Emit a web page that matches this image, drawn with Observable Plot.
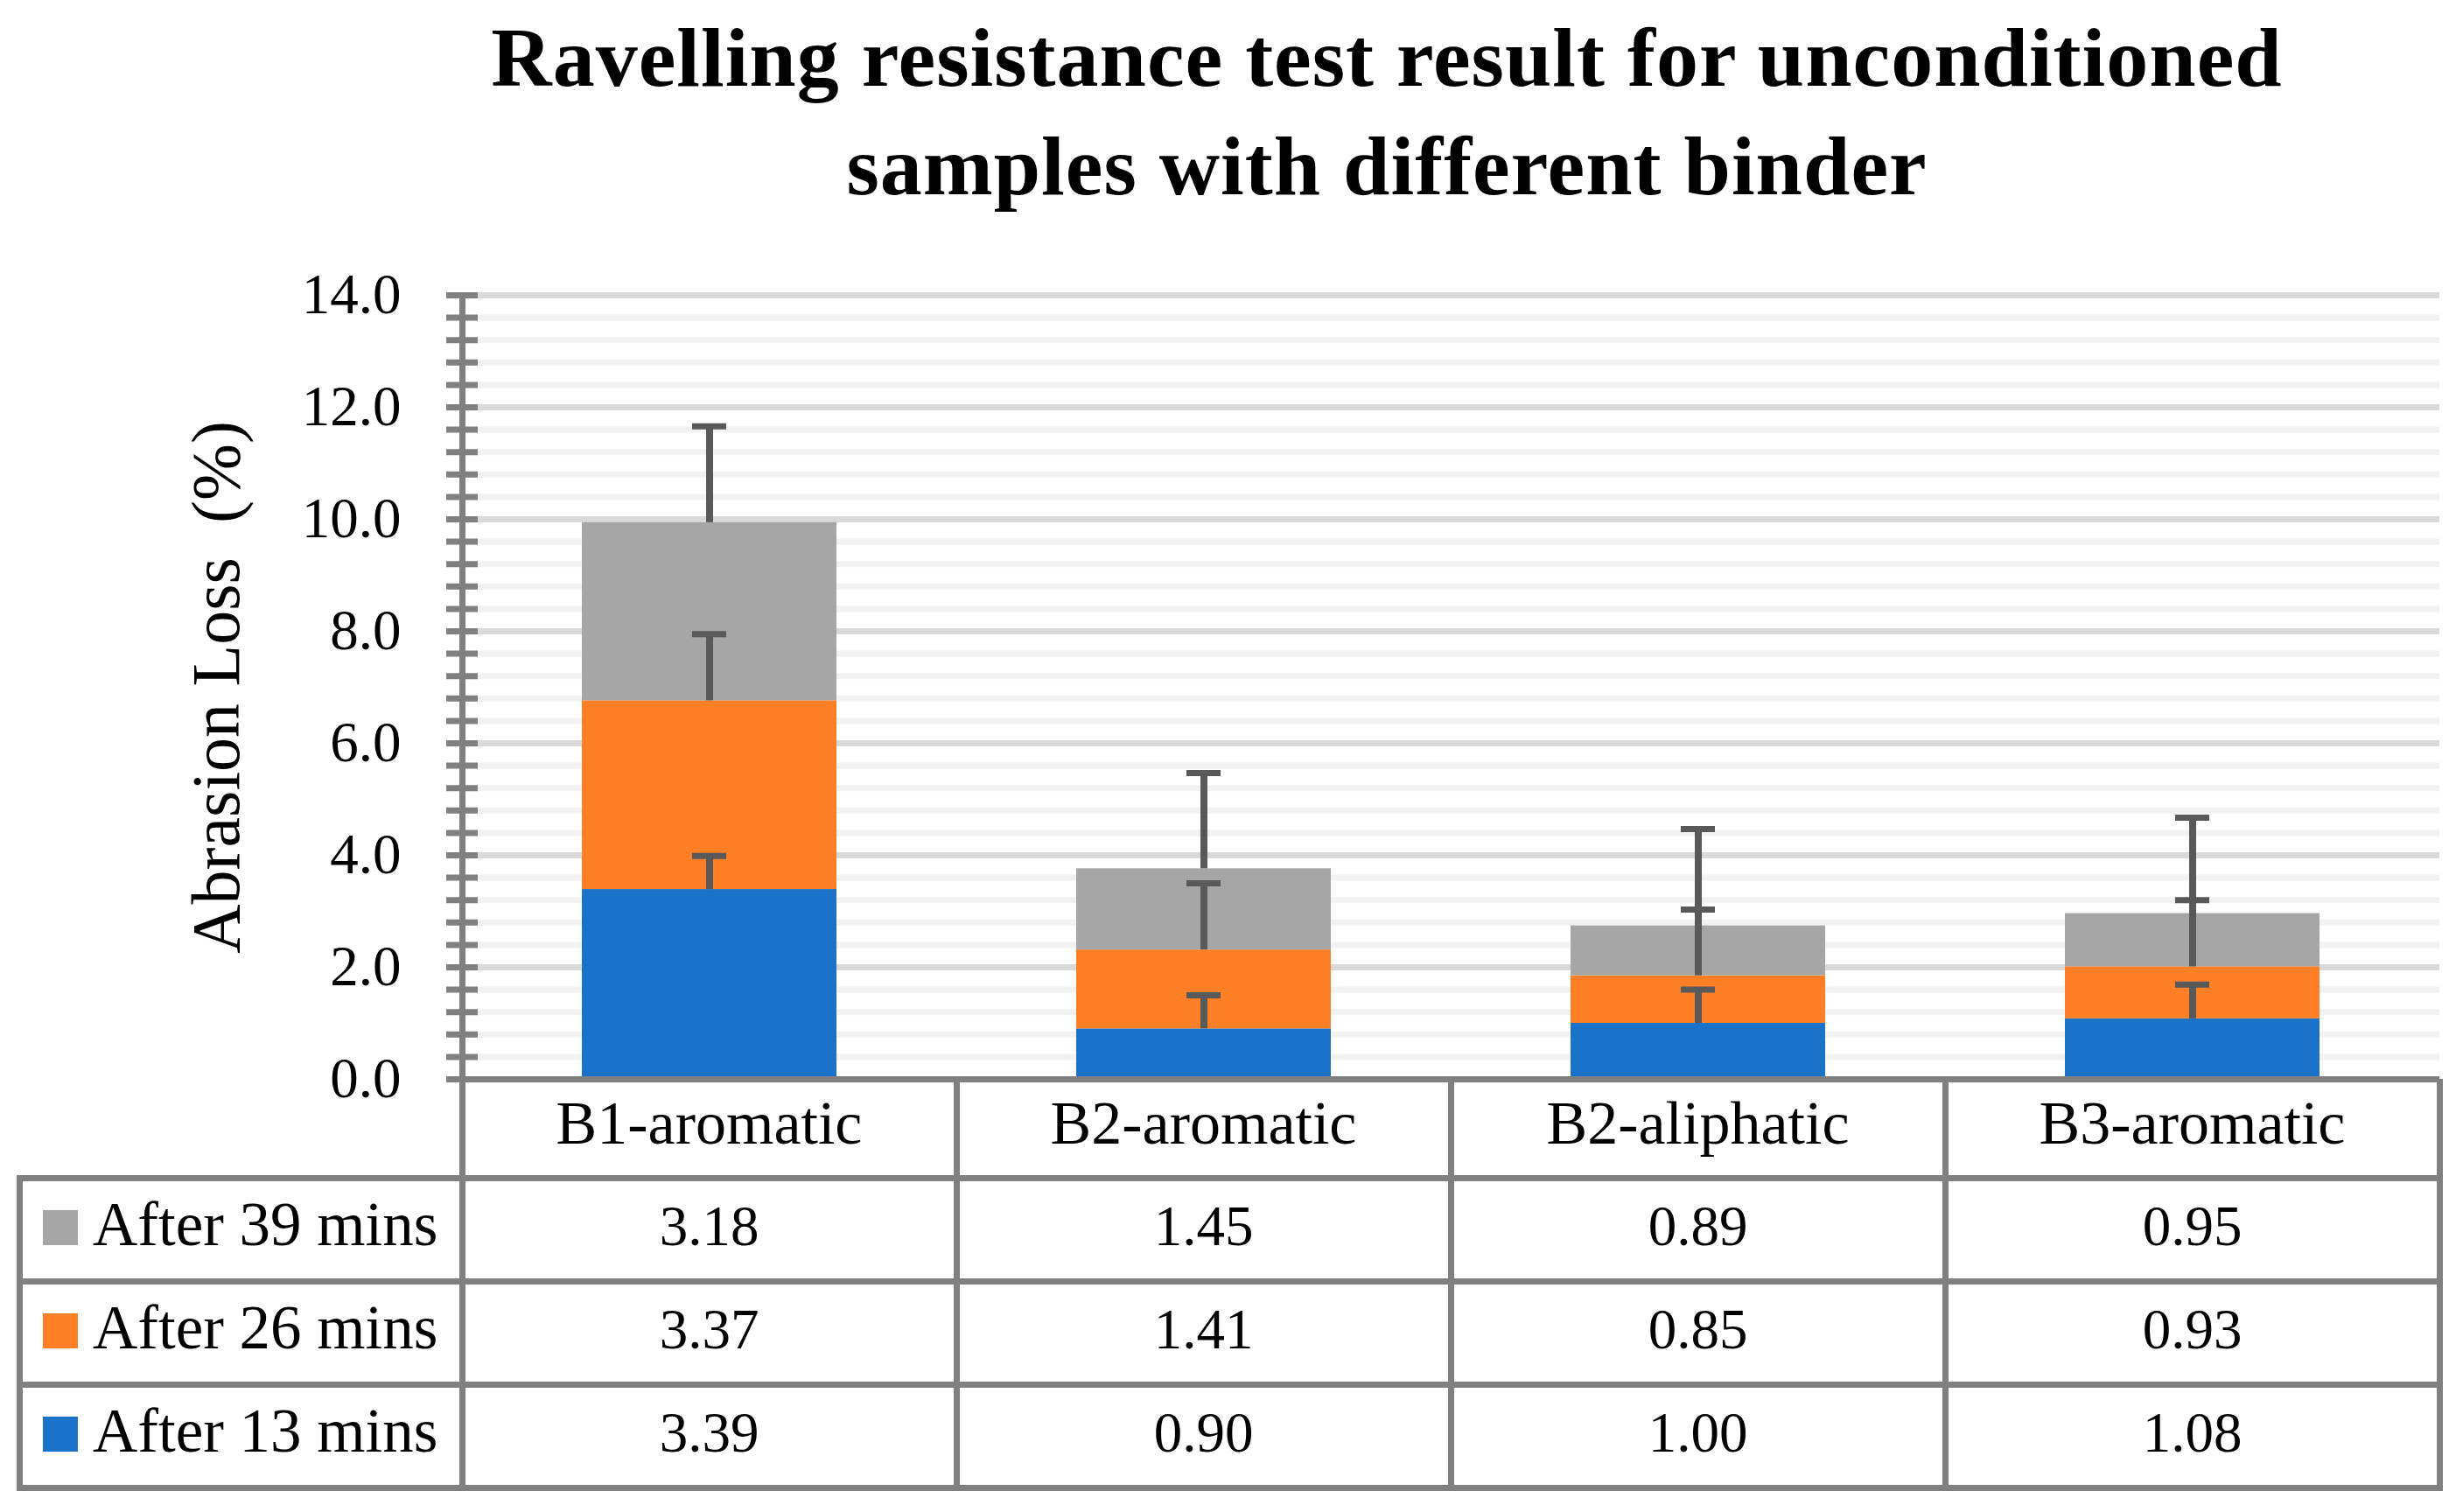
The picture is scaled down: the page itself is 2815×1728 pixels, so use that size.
<!DOCTYPE html>
<html>
<head>
<meta charset="utf-8">
<script src="https://cdn.jsdelivr.net/npm/d3@7"></script>
<script src="https://cdn.jsdelivr.net/npm/@observablehq/plot@0.6"></script>
<style>
  html, body { margin: 0; padding: 0; background: #fff; overflow: hidden; }
  #root { position: relative; width: 2815px; height: 1728px; font-family: "Liberation Serif", serif; color: #000; }
  .abs { position: absolute; white-space: nowrap; }
  .line { position: absolute; background: #808080; }
</style>
</head>
<body>
<div id="root"></div>
<script>
// ---------------- data ----------------
const titleLines = ["Ravelling resistance test result for unconditioned", "samples with different binder"];
const yLabel = "Abrasion Loss  (%)";
const categories = ["B1-aromatic", "B2-aromatic", "B2-aliphatic", "B3-aromatic"];
const seriesNames = ["After 13 mins", "After 26 mins", "After 39 mins"];
const after13 = [3.39, 0.90, 1.00, 1.08];
const after26 = [3.37, 1.41, 0.85, 0.93];
const after39 = [3.18, 1.45, 0.89, 0.95];
const err13 = [0.60, 0.60, 0.60, 0.61];
const err26 = [1.19, 1.19, 1.18, 1.19];
const err39 = [1.72, 1.71, 1.73, 1.71];
const seriesColors = ["#1a73c8", "#ff7f27", "#a6a6a6"];
const yMajorTicks = [0, 2, 4, 6, 8, 10, 12, 14];
const yMinorTicks = d3.range(0, 14.001, 0.4);
const tableRowOrder = ["After 39 mins", "After 26 mins", "After 13 mins"];

// ---------------- layout ----------------
const W = 2815;
const FONT = "Liberation Serif";
const mL = 528, mR = 27, mT = 337, mB = 7, plotH = 1240;
const padInner = 0.485;
const n = categories.length;
const stepW = (W - mL - mR) / n;
const bandW = stepW * (1 - padInner);
const capW = 39;

const values = [after13, after26, after39];
const errors = [err13, err26, err39];

const long = [];
seriesNames.forEach((s, si) => categories.forEach((c, ci) => long.push({binder: c, series: s, value: values[si][ci]})));

const errData = [];
categories.forEach((c, ci) => {
  let cum = 0;
  seriesNames.forEach((s, si) => {
    cum += values[si][ci];
    errData.push({binder: c, series: s, top: cum, hi: cum + errors[si][ci]});
  });
});

const chart = Plot.plot({
  width: W,
  height: plotH,
  marginLeft: mL,
  marginRight: mR,
  marginTop: mT,
  marginBottom: mB,
  style: {fontFamily: FONT, fontSize: "64px", background: "transparent", overflow: "visible", color: "#000"},
  x: {domain: categories, paddingInner: padInner, paddingOuter: padInner / 2, axis: null},
  y: {domain: [0, 14]},
  color: {domain: seriesNames, range: seriesColors},
  marks: [
    Plot.ruleY(yMinorTicks, {stroke: "#f2f2f2", strokeWidth: 7}),
    Plot.ruleY(yMajorTicks.filter(d => d > 0), {stroke: "#d9d9d9", strokeWidth: 7}),
    Plot.barY(long, {x: "binder", y: "value", fill: "series"}),
    Plot.ruleX(errData, {x: "binder", y1: "top", y2: "hi", stroke: "#595959", strokeWidth: 8}),
    Plot.tickY(errData, {x: "binder", y: "hi", stroke: "#595959", strokeWidth: 7, inset: (bandW - capW) / 2}),
    Plot.ruleY([0], {stroke: "#808080", strokeWidth: 7}),
    Plot.frame({anchor: "left", stroke: "#808080", strokeWidth: 7}),
    Plot.axisY(yMinorTicks, {tickSize: 36, dx: 18, stroke: "#808080", strokeWidth: 7, tickFormat: () => "", label: null}),
    Plot.axisY(yMajorTicks, {tickSize: 0, tickPadding: 70, tickFormat: d => d.toFixed(1), fontSize: 65, fill: "#000", label: null}),
    Plot.text([yLabel], {frameAnchor: "left", rotate: -90, dx: -311, lineAnchor: "top", textAnchor: "middle", fontSize: 78, fill: "#000"})
  ]
});

const root = document.getElementById("root");
chart.style.position = "absolute";
chart.style.left = "0px";
chart.style.top = "0px";
root.appendChild(chart);

// ---------------- title ----------------
const title = document.createElement("div");
title.className = "abs";
Object.assign(title.style, {left: "385px", width: "2400px", top: "4px", textAlign: "center",
  fontWeight: "bold", fontSize: "96px", lineHeight: "124px", letterSpacing: "1px", fontFamily: FONT});
title.innerHTML = titleLines.map(t => `<div>${t}</div>`).join("");
root.appendChild(title);

// ---------------- data table ----------------
const xs = chart.scale("x");
const ys = chart.scale("y");
const colEdges = categories.map(c => xs.apply(c) - (xs.step - xs.bandwidth) / 2);
colEdges.push(colEdges[n - 1] + xs.step);
const tableLeft = 22;
const headTop = ys.apply(0);
const headH = 113, rowH = 118;
const rowEdges = [headTop, headTop + headH];
for (let i = 1; i <= 3; i++) rowEdges.push(headTop + headH + i * rowH);
const T = 7;
const right = colEdges[colEdges.length - 1];

function line(x, y, w, h) {
  const d = document.createElement("div");
  d.className = "line";
  Object.assign(d.style, {left: x + "px", top: y + "px", width: w + "px", height: h + "px"});
  root.appendChild(d);
}
// horizontal lines
rowEdges.slice(1).forEach(y => line(tableLeft - T / 2, y - T / 2, right - tableLeft + T, T));
// vertical lines
line(tableLeft - T / 2, rowEdges[1] - T / 2, T, rowEdges[4] - rowEdges[1] + T);
colEdges.forEach(x => line(x - T / 2, headTop, T, rowEdges[4] - headTop + T / 2));

function text(str, {x, baseline, size, anchor = "middle"}) {
  const d = document.createElement("div");
  d.className = "abs";
  const top = baseline - 0.8375 * size;
  Object.assign(d.style, {top: top + "px", fontSize: size + "px", lineHeight: size + "px", fontFamily: FONT});
  if (anchor === "middle") {
    Object.assign(d.style, {left: (x - 400) + "px", width: "800px", textAlign: "center"});
  } else {
    d.style.left = x + "px";
  }
  d.textContent = str;
  root.appendChild(d);
}

// header
categories.forEach((c, ci) => {
  const cx = (colEdges[ci] + colEdges[ci + 1]) / 2;
  text(c, {x: cx, baseline: (rowEdges[0] + rowEdges[1]) / 2 + 18.5, size: 70});
});
// rows
tableRowOrder.forEach((s, ri) => {
  const si = seriesNames.indexOf(s);
  const yc = (rowEdges[ri + 1] + rowEdges[ri + 2]) / 2;
  const base = yc + 18;
  const sw = document.createElement("div");
  sw.className = "abs";
  Object.assign(sw.style, {left: "49px", top: (base - 40) + "px", width: "40px", height: "40px", background: seriesColors[si]});
  root.appendChild(sw);
  text(s, {x: 106, baseline: base, size: 71, anchor: "start"});
  categories.forEach((c, ci) => {
    const cx = (colEdges[ci] + colEdges[ci + 1]) / 2;
    text(values[si][ci].toFixed(2), {x: cx, baseline: base, size: 65});
  });
});
</script>
</body>
</html>
